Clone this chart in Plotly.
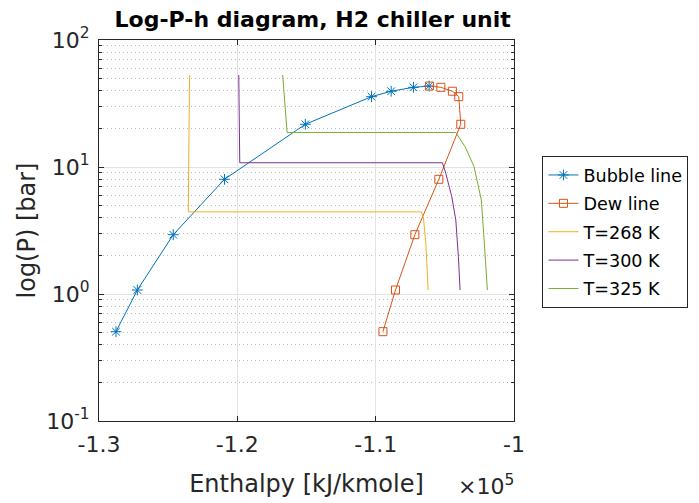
import plotly.graph_objects as go

# ---- data (enthalpy in kJ/kmole, pressure in bar) ----
sat_P = [0.505, 1.075, 2.93, 8.0, 21.7, 35.8, 39.5, 42.4, 43.4]
bubble_H = [-128773, -127229, -124631, -120929, -115083, -110299, -108877, -107268, -106135]
dew_H = [-109476, -108567, -107167, -105435, -103847, -103991, -104453, -105290, -106113]

T268_H = [-123455, -123548, -106690, -106546, -106373, -106207]
T268_P = [53.0, 4.43, 4.43, 3.95, 2.51, 1.075]

T300_H = [-119897, -119825, -105175, -104930, -104497, -104208, -104020, -103897]
T300_P = [53.0, 10.8, 10.8, 8.91, 5.83, 3.83, 1.97, 1.075]

T325_H = [-116722, -116404, -104208, -103537, -102888, -102361, -102144, -101926]
T325_P = [53.0, 18.7, 18.7, 14.45, 10.06, 5.50, 2.51, 1.075]

x_tickvals = [-130000, -120000, -110000, -100000]
x_ticktext = ["-1.3", "-1.2", "-1.1", "-1"]
y_tickvals = [0.1, 1, 10, 100]
y_ticktext = ["10<sup>-1</sup>", "10<sup>0</sup>", "10<sup>1</sup>", "10<sup>2</sup>"]
y_minor = [m * d for d in (0.1, 1, 10) for m in range(2, 10)]

colors = ["#0072BD", "#D95319", "#EDB120", "#7E2F8E", "#77AC30"]
FONT = "DejaVu Sans, Verdana, sans-serif"
AX = "#262626"

fig = go.Figure()
fig.add_trace(go.Scatter(x=bubble_H, y=sat_P, mode="lines+markers", name="Bubble line",
                         legendgroup="g1",
                         line=dict(color=colors[0], width=1),
                         marker=dict(symbol="asterisk-open", size=9,
                                     line=dict(color=colors[0], width=1))))
fig.add_trace(go.Scatter(x=dew_H, y=sat_P, mode="lines+markers", name="Dew line",
                         legendgroup="g2",
                         line=dict(color=colors[1], width=1),
                         marker=dict(symbol="square-open", size=8, color=colors[1],
                                     line=dict(color=colors[1], width=1))))
fig.add_trace(go.Scatter(x=T268_H, y=T268_P, mode="lines", name="T=268 K",
                         legendgroup="g3", line=dict(color=colors[2], width=1)))
fig.add_trace(go.Scatter(x=T300_H, y=T300_P, mode="lines", name="T=300 K",
                         legendgroup="g4", line=dict(color=colors[3], width=1)))
fig.add_trace(go.Scatter(x=T325_H, y=T325_P, mode="lines", name="T=325 K",
                         legendgroup="g5", line=dict(color=colors[4], width=1)))

fig.update_layout(
    width=699, height=503,
    margin=dict(l=99, r=184, t=40, b=82),
    paper_bgcolor="white", plot_bgcolor="white",
    font=dict(family=FONT, color=AX, size=22),
    title=dict(text="<b>Log-P-h diagram, H2 chiller unit</b>", xref="paper", x=0.515,
               xanchor="center", y=1 - 19 / 503, yanchor="middle",
               font=dict(family=FONT, size=22, color="black")),
    xaxis=dict(range=[-130000, -100000], tickvals=x_tickvals, ticktext=x_ticktext,
               showline=True, linecolor=AX, linewidth=1, mirror="ticks",
               ticks="inside", ticklen=5, tickcolor=AX,
               showgrid=True, gridcolor="#e3e3e3", gridwidth=1, zeroline=False,
               ticklabelstandoff=4, automargin=False,
               title=dict(text="Enthalpy [kJ/kmole]", font=dict(size=24), standoff=18)),
    yaxis=dict(type="log", range=[-1, 2], tickvals=y_tickvals, ticktext=y_ticktext,
               showline=True, linecolor=AX, linewidth=1, mirror="ticks",
               ticks="inside", ticklen=5, tickcolor=AX,
               showgrid=True, gridcolor="#e3e3e3", gridwidth=1, zeroline=False,
               minor=dict(tickvals=y_minor, ticks="inside", ticklen=3, tickcolor=AX,
                          showgrid=True, gridcolor="#bdbdbd", griddash="1px,3px", gridwidth=1),
               ticklabelstandoff=4, automargin=False,
               title=dict(text="log(P) [bar]", font=dict(size=24), standoff=3)),
    legend=dict(x=1.066, y=0.6955, xanchor="left", yanchor="top",
                bordercolor=AX, borderwidth=1, bgcolor="white",
                font=dict(size=17.6, color="black"), tracegroupgap=2.5,
                traceorder="grouped", itemwidth=30),
    showlegend=True,
)

fig.add_annotation(text="\u00d710<sup>5</sup>", xref="paper", yref="paper",
                   x=0.933, y=-0.168, showarrow=False,
                   font=dict(size=22, color=AX), xanchor="center", yanchor="middle")

fig.write_html("out.html")
